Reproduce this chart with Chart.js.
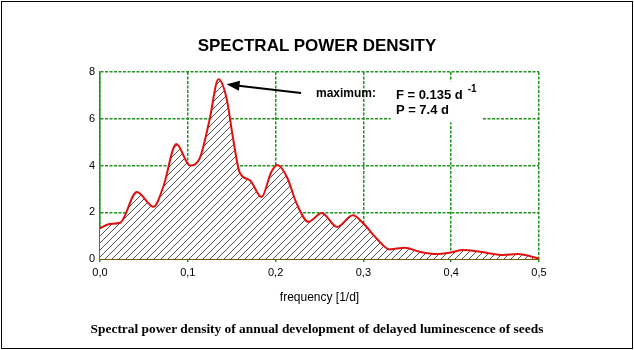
<!DOCTYPE html>
<html>
<head>
<meta charset="utf-8">
<script src="https://cdn.jsdelivr.net/npm/chart.js@4"></script>
<style>
  html,body{margin:0;padding:0;background:#fff;}
  #wrap{position:relative;width:634px;height:350px;overflow:hidden;}
  #frame{position:absolute;left:1px;top:1px;width:630px;height:346px;border:1px solid #000;}
  #title{position:absolute;left:0;width:634px;top:36px;text-align:center;font:bold 17px "Liberation Sans",Arial,sans-serif;color:#000;}
  #caption{position:absolute;left:0;width:634px;top:321px;text-align:center;font:bold 13.4px "Liberation Serif","Times New Roman",serif;color:#000;}
  canvas{position:absolute;left:0;top:0;}
</style>
</head>
<body>
<div id="wrap">
  <canvas id="c" width="634" height="350"></canvas>
  <div id="frame"></div>
  <div id="title">SPECTRAL POWER DENSITY</div>
  <div id="caption">Spectral power density of annual development of delayed luminescence of seeds</div>
</div>
<script>
// frequency [1/d]
const frequency = [0.0, 0.011, 0.023, 0.042, 0.061, 0.072, 0.087, 0.1025, 0.114, 0.1245, 0.135, 0.144, 0.152, 0.159, 0.171, 0.184, 0.195, 0.202, 0.213, 0.224, 0.2375, 0.2525, 0.27, 0.288, 0.30, 0.315, 0.33, 0.347, 0.364, 0.383, 0.398, 0.414, 0.433, 0.459, 0.476, 0.5];
// spectral power density
const power = [1.31, 1.5, 1.55, 2.87, 2.23, 3.08, 4.92, 4.0, 4.35, 5.9, 7.69, 6.9, 5.06, 3.71, 3.36, 2.65, 3.71, 4.02, 3.5, 2.37, 1.59, 1.97, 1.37, 1.87, 1.52, 0.88, 0.41, 0.48, 0.31, 0.21, 0.27, 0.38, 0.31, 0.17, 0.21, 0.02];
const xTicks = [0, 0.1, 0.2, 0.3, 0.4, 0.5];
const yTicks = [0, 2, 4, 6, 8];
const maxF = 0.135, maxP = 7.69;
const annotation = {label: "maximum:", line1: "F = 0.135 d", sup: "-1", line2: "P = 7.4 d"};

// hatch pattern
const pc = document.createElement('canvas');
pc.width = 7; pc.height = 7;
const px = pc.getContext('2d');
px.fillStyle = '#fff'; px.fillRect(0,0,7,7);
px.strokeStyle = '#555'; px.lineWidth = 1;
px.beginPath();
px.moveTo(0,7); px.lineTo(7,0);
px.moveTo(-1,1); px.lineTo(1,-1);
px.moveTo(6,8); px.lineTo(8,6);
px.stroke();
const hatch = px.createPattern(pc, 'repeat');

const GREEN = '#1f951f';
const annot = {
  id: 'annot',
  afterDatasetsDraw(chart) {
    const ctx = chart.ctx, xs = chart.scales.x, ys = chart.scales.y;
    ctx.save();
    ctx.setLineDash([]);
    // white box behind text
    const bx = xs.getPixelForValue(0.331), bx2 = xs.getPixelForValue(0.435);
    const by = ys.getPixelForValue(7.6), by2 = ys.getPixelForValue(5.85);
    ctx.fillStyle = '#fff';
    ctx.fillRect(bx, by, bx2 - bx, by2 - by);
    // arrow
    const tx = xs.getPixelForValue(maxF) + 8, ty = ys.getPixelForValue(maxP) + 5;
    const sx = xs.getPixelForValue(0.229), sy = ys.getPixelForValue(7.1);
    ctx.strokeStyle = '#000'; ctx.fillStyle = '#000'; ctx.lineWidth = 2;
    const ang = Math.atan2(ty - sy, tx - sx);
    ctx.beginPath();
    ctx.moveTo(sx, sy);
    ctx.lineTo(tx - 10*Math.cos(ang), ty - 10*Math.sin(ang));
    ctx.stroke();
    ctx.beginPath();
    ctx.moveTo(tx, ty);
    ctx.lineTo(tx - 13*Math.cos(ang) + 5*Math.sin(ang), ty - 13*Math.sin(ang) - 5*Math.cos(ang));
    ctx.lineTo(tx - 13*Math.cos(ang) - 5*Math.sin(ang), ty - 13*Math.sin(ang) + 5*Math.cos(ang));
    ctx.closePath(); ctx.fill();
    // texts
    ctx.font = 'bold 12px "Liberation Sans", Arial, sans-serif';
    ctx.textBaseline = 'middle'; ctx.textAlign = 'left';
    ctx.fillText(annotation.label, xs.getPixelForValue(0.246), ys.getPixelForValue(7.08));
    ctx.font = 'bold 13px "Liberation Sans", Arial, sans-serif';
    const fx = xs.getPixelForValue(0.337);
    ctx.fillText(annotation.line1, fx, ys.getPixelForValue(7.0));
    const w = ctx.measureText(annotation.line1).width;
    ctx.font = 'bold 10px "Liberation Sans", Arial, sans-serif';
    ctx.fillText(annotation.sup, fx + w + 5, ys.getPixelForValue(7.27));
    ctx.font = 'bold 13px "Liberation Sans", Arial, sans-serif';
    ctx.fillText(annotation.line2, fx, ys.getPixelForValue(6.35));
    ctx.restore();
  }
};

new Chart(document.getElementById('c'), {
  type: 'line',
  data: {
    datasets: [{
      data: frequency.map((f, i) => ({x: f, y: power[i]})),
      borderColor: '#e01010',
      borderWidth: 2,
      backgroundColor: hatch,
      fill: 'origin',
      pointRadius: 0,
      tension: 0.4,
      cubicInterpolationMode: 'monotone'
    }]
  },
  options: {
    responsive: false,
    animation: false,
    layout: {padding: {left: 70, right: 95, top: 72, bottom: 41}},
    plugins: {legend: {display: false}, tooltip: {enabled: false}},
    scales: {
      x: {
        type: 'linear', min: 0, max: 0.5,
        afterFit(s) { s.height = 50; },
        afterBuildTicks(s) { s.ticks = xTicks.map(v => ({value: v})); },
        ticks: {
          color: '#000', padding: 4,
          font: {family: '"Liberation Sans", Arial, sans-serif', size: 11},
          callback: v => v.toFixed(1).replace('.', ',')
        },
        grid: {color: GREEN, lineWidth: 1.5, tickLength: 3, drawTicks: true},
        border: {display: true, color: '#7a5a00', width: 2, dash: [3, 1.5]},
        title: {
          display: true, text: 'frequency [1/d]', color: '#000',
          font: {family: '"Liberation Sans", Arial, sans-serif', size: 12},
          padding: {top: 8}
        }
      },
      y: {
        min: 0, max: 8,
        afterFit(s) { s.width = 30; },
        afterBuildTicks(s) { s.ticks = yTicks.map(v => ({value: v})); },
        ticks: {
          color: '#000', padding: 5,
          font: {family: '"Liberation Sans", Arial, sans-serif', size: 11}
        },
        grid: {color: GREEN, lineWidth: 1.5, tickLength: 0},
        border: {display: true, color: GREEN, width: 1.5, dash: [3, 1.5]}
      }
    }
  },
  plugins: [annot]
});
</script>
</body>
</html>
